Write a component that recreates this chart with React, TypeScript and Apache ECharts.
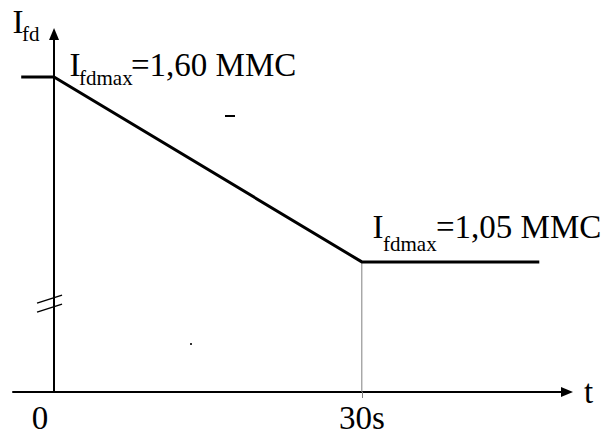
import React, { useEffect, useRef } from "react";
import * as echarts from "echarts";

// Data
const TIME_S = [-3.2, 0, 30, 47.3];
const IFD_MMC = [1.6, 1.6, 1.05, 1.05];
const X_MIN = -4;
const X_MAX = 50;
const Y_MIN = 0.663;
const Y_MAX = 1.728;
const X_LABEL_VALUES = [0, 30];
const X_LABEL_TEXTS = ["0", "30s"];
const TICK_VALUES = [30];
const GUIDE_T = [30, 30];
const GUIDE_I = [1.05, Y_MIN];
const BREAK_AT = 0.926;
const TOP_LABEL = ["I", "fdmax", "=1,60 MMC"];
const BOTTOM_LABEL = ["I", "fdmax", "=1,05 MMC"];
const AXIS_NAME_Y = ["I", "fd"];
const AXIS_NAME_X = "t";

const FONT = "'Liberation Serif', 'Times New Roman', serif";
const FS = 33;
const FS_SUB = 21;

function txt(text: string, x: number, y: number, size: number) {
  return {
    type: "text",
    x,
    y,
    silent: true,
    style: {
      text,
      fontSize: size,
      fontFamily: FONT,
      fill: "#000",
      align: "left",
      verticalAlign: "middle",
    },
  };
}

export default function App() {
  const ref = useRef<HTMLDivElement>(null);
  useEffect(() => {
    if (!ref.current) return;
    const chart = echarts.init(ref.current, null, { renderer: "svg" });
    const mainData = TIME_S.map((t, i) => [t, IFD_MMC[i]]);
    const guideData = GUIDE_T.map((t, i) => [t, GUIDE_I[i]]);
    chart.setOption({
      animation: false,
      backgroundColor: "#fff",
      textStyle: { fontFamily: FONT },
      grid: { left: 13, right: 38, top: 34, bottom: 46, containLabel: false },
      xAxis: {
        type: "value",
        min: X_MIN,
        max: X_MAX,
        name: AXIS_NAME_X,
        nameLocation: "end",
        nameGap: 17,
        nameTextStyle: {
          fontFamily: FONT,
          fontSize: FS,
          color: "#000",
          padding: [20, 0, 0, 0],
        },
        axisLine: {
          show: true,
          onZero: false,
          symbol: ["none", "triangle"],
          symbolSize: [10, 12],
          lineStyle: { color: "#000", width: 2 },
        },
        axisTick: {
          show: true,
          customValues: TICK_VALUES,
          length: 6,
          lineStyle: { color: "#808080", width: 1 },
        },
        axisLabel: {
          show: true,
          customValues: X_LABEL_VALUES,
          margin: 9,
          fontFamily: FONT,
          fontSize: FS,
          color: "#000",
          formatter: (v: number) => {
            const idx = X_LABEL_VALUES.indexOf(v);
            const t = idx >= 0 ? X_LABEL_TEXTS[idx] : "";
            return v === 0 ? "{z|" + t + "}" : "{s|" + t + "}";
          },
          rich: {
            z: { fontFamily: FONT, fontSize: FS, color: "#000", padding: [0, 28, 0, 0] },
            s: { fontFamily: FONT, fontSize: FS, color: "#000" },
          },
        },
        splitLine: { show: false },
      },
      yAxis: {
        type: "value",
        min: Y_MIN,
        max: Y_MAX,
        axisLine: {
          show: true,
          onZero: true,
          symbol: ["none", "triangle"],
          symbolSize: [10, 12],
          lineStyle: { color: "#000", width: 2 },
        },
        axisTick: { show: false },
        axisLabel: { show: false },
        splitLine: { show: false },
      },
      series: [
        {
          type: "line",
          data: guideData,
          symbol: "none",
          clip: false,
          lineStyle: { color: "#808080", width: 1 },
          z: 1,
        },
        {
          type: "line",
          data: mainData,
          symbol: "none",
          lineStyle: { color: "#000", width: 3 },
          z: 3,
        },
      ],
    });

    const p = chart.convertToPixel({ gridIndex: 0 }, [0, BREAK_AT]) as number[];
    const bx = p[0];
    const by = p[1];
    chart.setOption({
      graphic: [
        {
          type: "line",
          silent: true,
          shape: { x1: bx - 17, y1: by - 0.5, x2: bx + 8, y2: by - 8.5 },
          style: { stroke: "#000", lineWidth: 1.5 },
        },
        {
          type: "line",
          silent: true,
          shape: { x1: bx - 17, y1: by + 8.5, x2: bx + 8, y2: by + 0.5 },
          style: { stroke: "#000", lineWidth: 1.5 },
        },
        {
          type: "line",
          silent: true,
          shape: { x1: 225, y1: 116, x2: 235, y2: 116 },
          style: { stroke: "#000", lineWidth: 2 },
        },
        {
          type: "rect",
          silent: true,
          shape: { x: 190, y: 343, width: 2, height: 2 },
          style: { fill: "#333" },
        },
        txt(AXIS_NAME_Y[0], 12.5, 22, FS),
        txt(AXIS_NAME_Y[1], 22, 34, FS_SUB),
        txt(TOP_LABEL[0], 69.5, 65.4, FS),
        txt(TOP_LABEL[1], 79, 78, FS_SUB),
        txt(TOP_LABEL[2], 131, 65.4, FS),
        txt(BOTTOM_LABEL[0], 372.5, 227, FS),
        txt(BOTTOM_LABEL[1], 383, 243.5, FS_SUB),
        txt(BOTTOM_LABEL[2], 436, 227, FS),
      ],
    });
    return () => chart.dispose();
  }, []);
  return (
    <div
      ref={ref}
      style={{ position: "fixed", left: 0, top: 0, width: 605, height: 438, background: "#fff" }}
    />
  );
}
